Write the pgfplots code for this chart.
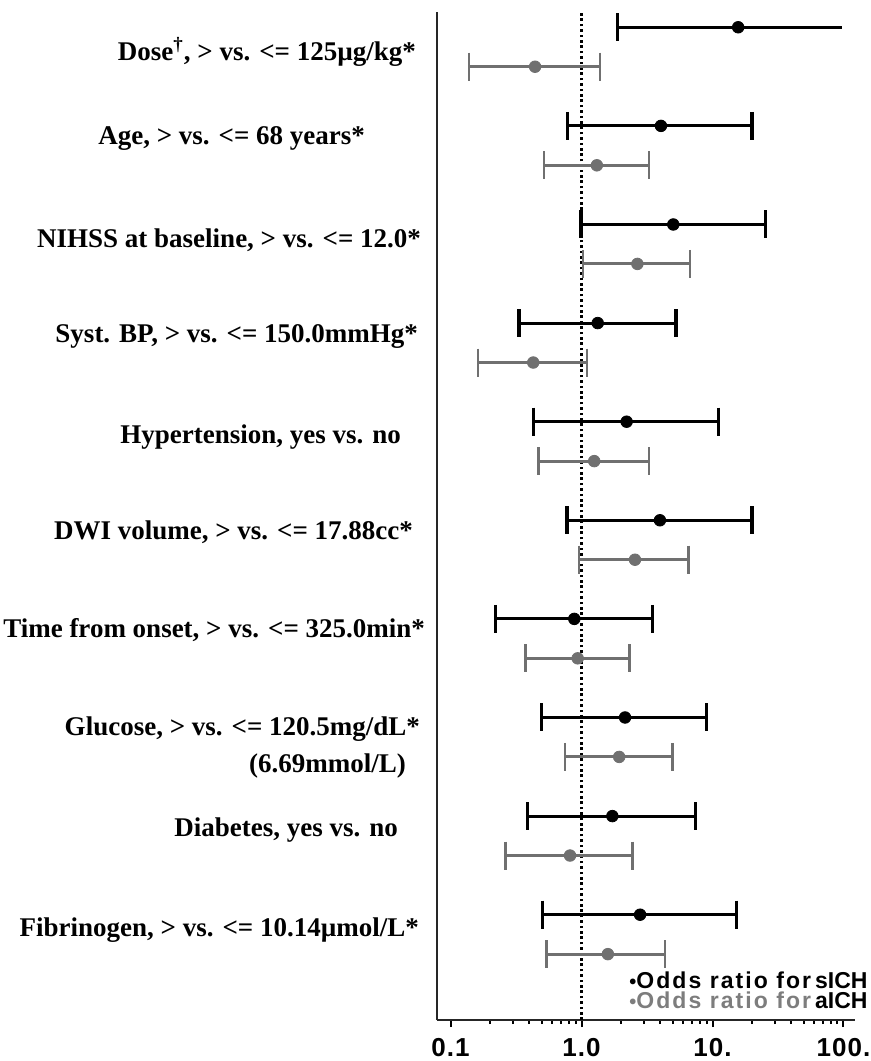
\documentclass[border=0pt]{standalone}
\usepackage{fontspec}
\setmainfont{Liberation Serif}
\newfontfamily\tickfont{Liberation Sans}[LetterSpace=4]
\newfontfamily\legwide{Liberation Sans}[LetterSpace=9]
\newfontfamily\legnorm{Liberation Sans}
\usepackage{pgfplots}
\pgfplotsset{compat=1.18}
\definecolor{cigray}{RGB}{112,112,112}
\definecolor{leggray}{RGB}{125,125,125}
\newcommand\labfont{\fontsize{13.5}{16}\selectfont\bfseries}
\begin{document}
\begin{tikzpicture}
\begin{axis}[
  scale only axis, width=209pt, height=504pt,
  xmode=log, log basis x=10,
  xmin=0.07884, xmax=122.4, ymin=-10.068, ymax=0.155,
  axis x line*=bottom, axis y line*=left,
  axis line style={-, black!85, line width=1pt},
  ytick=\empty,
  xtick={0.1,1,10,100},
  xticklabels={0.1,1.0,10.,100.},
  minor xtick={0.2,0.3,0.4,0.5,0.6,0.7,0.8,0.9,2,3,4,5,6,7,8,9,20,30,40,50,60,70,80,90},
  tick align=outside,
  major tick length=3.5pt, minor tick length=2pt,
  tick style={black, line width=1pt},
  xticklabel style={font=\tickfont\bfseries\fontsize{13}{14}\selectfont, yshift=-2pt},
  clip=false,
]
% reference line at OR = 1
\addplot[black, line width=1.1pt, dash pattern=on 1.3pt off 1.4pt] coordinates {(1,-10.068) (1,0.155)};

% sICH (black) confidence intervals
\addplot[black, line width=1.5pt, mark=|, mark size=7pt, mark options={line width=1.6pt}, unbounded coords=jump] coordinates {
 (0.785,-1) (20.0,-1) (nan,nan)
 (0.99,-2) (25.5,-2) (nan,nan)
 (0.333,-3) (5.27,-3) (nan,nan)
 (0.428,-4) (11.1,-4) (nan,nan)
 (0.775,-5) (20.0,-5) (nan,nan)
 (0.221,-6) (3.50,-6) (nan,nan)
 (0.497,-7) (8.97,-7) (nan,nan)
 (0.388,-8) (7.44,-8) (nan,nan)
 (0.502,-9) (15.3,-9)
};
\addplot[black, line width=1.5pt, mark=|, mark size=7pt, mark options={line width=1.6pt}, mark indices={1}] coordinates {(1.87,0) (97,0)};
% sICH point estimates
\addplot[only marks, mark=*, mark size=2.9pt, black] coordinates {
 (15.7,0) (4.04,-1) (5.02,-2) (1.33,-3) (2.21,-4) (3.97,-5) (0.881,-6) (2.15,-7) (1.72,-8) (2.80,-9)
};

% aICH (gray) confidence intervals
\addplot[cigray, line width=1.45pt, mark=|, mark size=7pt, mark options={line width=1.3pt}, unbounded coords=jump] coordinates {
 (0.138,-0.4) (1.38,-0.4) (nan,nan)
 (0.517,-1.4) (3.27,-1.4) (nan,nan)
 (1.03,-2.4) (6.73,-2.4) (nan,nan)
 (0.162,-3.4) (1.10,-3.4) (nan,nan)
 (0.471,-4.4) (3.27,-4.4) (nan,nan)
 (0.957,-5.4) (6.54,-5.4) (nan,nan)
 (0.372,-6.4) (2.32,-6.4) (nan,nan)
 (0.748,-7.4) (4.93,-7.4) (nan,nan)
 (0.264,-8.4) (2.44,-8.4) (nan,nan)
 (0.542,-9.4) (4.34,-9.4)
};
% aICH point estimates
\addplot[only marks, mark=*, mark size=2.9pt, cigray] coordinates {
 (0.442,-0.4) (1.31,-1.4) (2.67,-2.4) (0.428,-3.4) (1.25,-4.4) (2.56,-5.4) (0.935,-6.4) (1.94,-7.4) (0.817,-8.4) (1.59,-9.4)
};

% row labels
\node[anchor=east, font=\labfont, xshift=-7pt] at (axis cs:0.07884,-0.25) {Dose\textsuperscript{†}, > vs. <= 125µg/kg*};
\node[anchor=east, font=\labfont, xshift=-32.5pt] at (axis cs:0.07884,-1.123) {Age, > vs. <= 68 years*};
\node[anchor=east, font=\labfont, xshift=-4.5pt] at (axis cs:0.07884,-2.157) {NIHSS at baseline, > vs. <= 12.0*};
\node[anchor=east, font=\labfont, xshift=-6pt] at (axis cs:0.07884,-3.141) {Syst. BP, > vs. <= 150.0mmHg*};
\node[anchor=east, font=\labfont, xshift=-14.5pt] at (axis cs:0.07884,-4.155) {Hypertension, yes vs. no};
\node[anchor=east, font=\labfont, xshift=-8.5pt] at (axis cs:0.07884,-5.118) {DWI volume, > vs. <= 17.88cc*};
\node[anchor=east, font=\labfont, xshift=-2.5pt] at (axis cs:0.07884,-6.113) {Time from onset, > vs. <= 325.0min*};
\node[anchor=east, font=\labfont, xshift=-5pt] at (axis cs:0.07884,-7.116) {Glucose, > vs. <= 120.5mg/dL*};
\node[anchor=east, font=\labfont, xshift=-12pt] at (axis cs:0.07884,-7.49) {(6.69mmol/L)};
\node[anchor=east, font=\labfont, xshift=-16pt] at (axis cs:0.07884,-8.141) {Diabetes, yes vs. no};
\node[anchor=east, font=\labfont, xshift=-5.5pt] at (axis cs:0.07884,-9.155) {Fibrinogen, > vs. <= 10.14µmol/L*};

% legend
\node[anchor=base east, inner sep=0pt, xshift=6.5pt, font=\legnorm\bfseries\fontsize{11.5}{12}\selectfont] at (axis cs:122.4,-9.75)
  {{\fontsize{10}{10}\selectfont •}{\legwide\bfseries Odds ratio for}\kern2pt sICH};
\node[anchor=base east, inner sep=0pt, xshift=6.5pt, font=\legnorm\bfseries\fontsize{11.5}{12}\selectfont] at (axis cs:122.4,-9.955)
  {\textcolor{leggray}{{\fontsize{10}{10}\selectfont •}{\legwide\bfseries Odds ratio for}}\kern2pt aICH};
\end{axis}
\pgfresetboundingbox
\path (current axis.south west) ++(-218.5pt,-20.5pt) rectangle ++(435.5pt,530.5pt);
\end{tikzpicture}
\end{document}
